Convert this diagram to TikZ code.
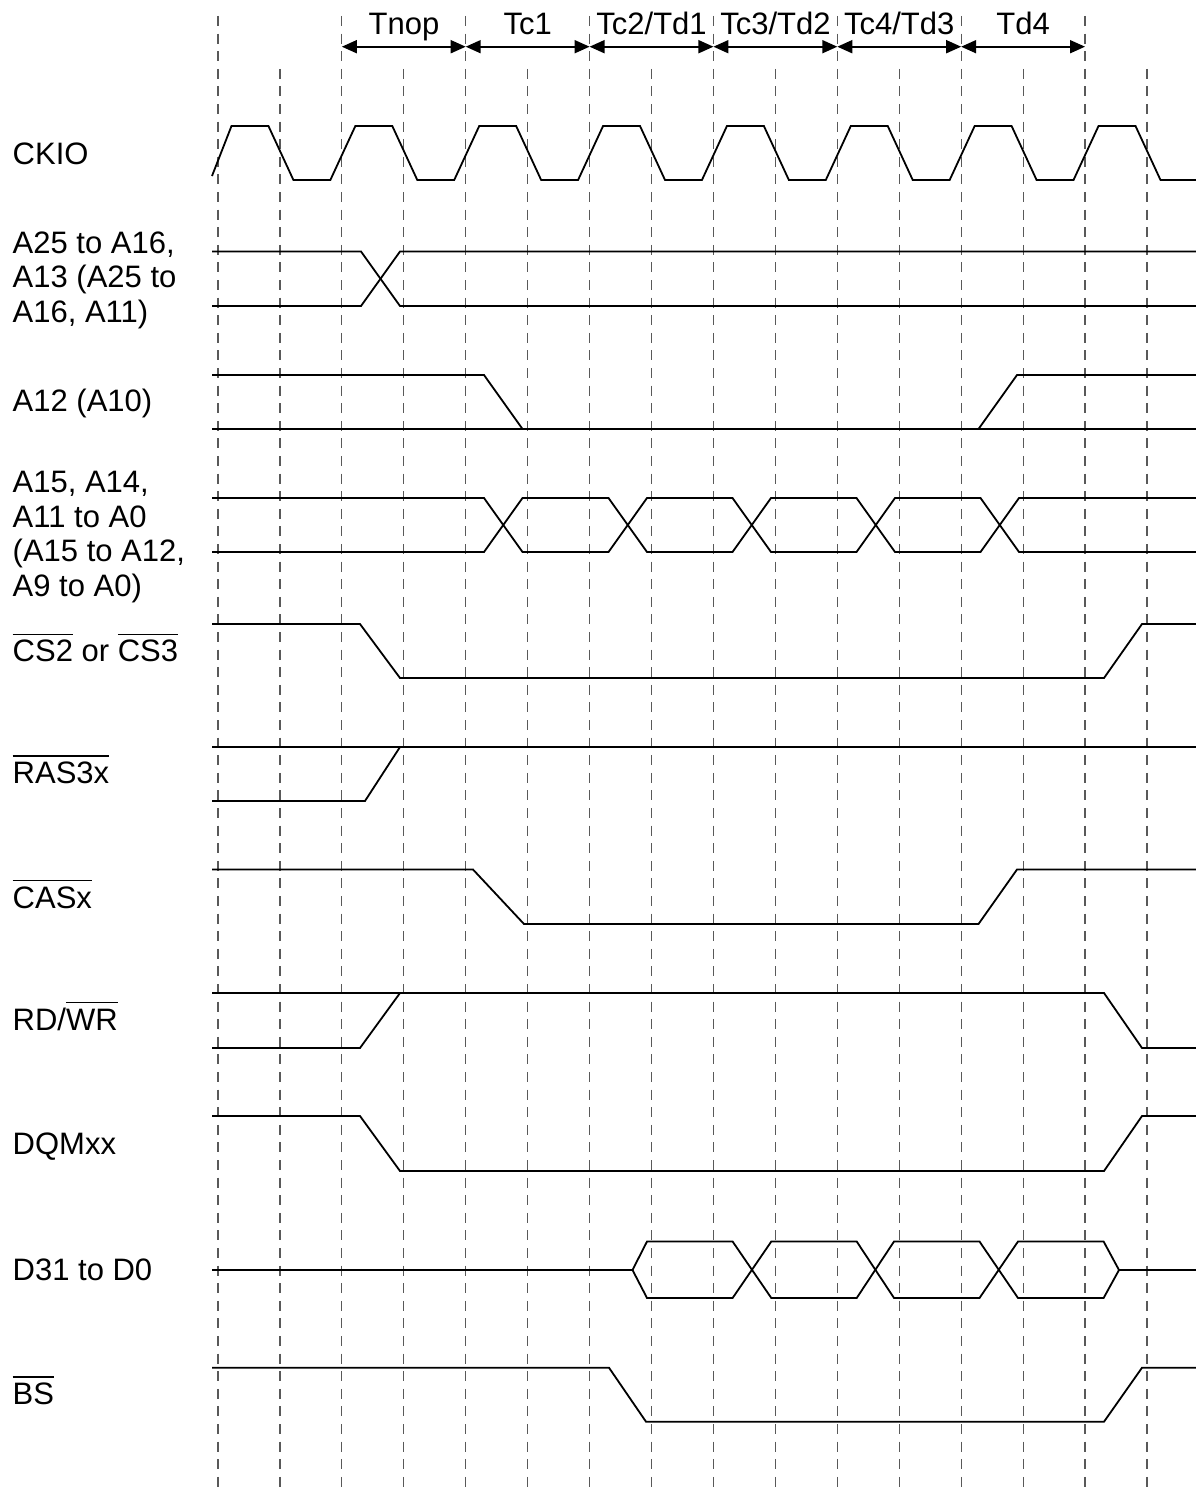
\documentclass[tikz,border=0pt]{standalone}
\usepackage{fontspec}
\setmainfont{Liberation Sans}
\usetikzlibrary{arrows.meta}
\newsavebox\ovbx
\newcommand\ovb[1]{\sbox\ovbx{#1}\rlap{\rule[26.8pt]{\wd\ovbx}{1.4pt}}\usebox\ovbx}
\begin{document}
\begin{tikzpicture}[x=1pt,y=-1pt,
  sig/.style={line width=1.8pt},
  gridln/.style={line width=1.2pt, black!65, dash pattern=on 10pt off 7.6pt},
  lbl/.style={anchor=base west, inner sep=0pt, font=\fontsize{31}{34.5}\selectfont},
  per/.style={anchor=base, inner sep=0pt, font=\fontsize{31}{34.5}\selectfont},
  span/.style={line width=1.8pt, {Triangle[length=15pt,width=13pt]}-{Triangle[length=15pt,width=13pt]}}]
\useasboundingbox (0,0) rectangle (1196,1488);

% dashed grid
\foreach \i in {0,...,15} {
  \pgfmathsetmacro\xx{218+61.93*\i}
  \ifodd\i \def\ys{68.8}\else\def\ys{16}\fi
  \draw[gridln] (\xx,\ys) -- (\xx,1488);
}

% period arrows and labels
\foreach \k in {1,...,7} { \coordinate (t\k) at ({218+123.86*\k},46.7); }
\draw[span] (t1) -- (t2);
\draw[span] (t2) -- (t3);
\draw[span] (t3) -- (t4);
\draw[span] (t4) -- (t5);
\draw[span] (t5) -- (t6);
\draw[span] (t6) -- (t7);
\node[per] (pTnop) at (404,35) {Tnop};
\node[per] (pTc1) at (527.7,35) {Tc1};
\node[per] (pTc2) at (651.5,35) {Tc2/Td1};
\node[per] (pTc3) at (775.4,35) {Tc3/Td2};
\node[per] (pTc4) at (899.2,35) {Tc4/Td3};
\node[per] (pTd4) at (1023.1,35) {Td4};

% signal labels
\node[lbl] (lCK) at (12.5,164) {CKIO};
\node[lbl] (lA25) at (12.5,253) {\vtop{\hbox{A25 to A16,}\hbox{A13 (A25 to}\hbox{A16, A11)}}};
\node[lbl] (lA12) at (12.5,411.7) {A12 (A10)};
\node[lbl] (lA15) at (12.5,492.7) {\vtop{\hbox{A15, A14,}\hbox{A11 to A0}\hbox{(A15 to A12,}\hbox{A9 to A0)}}};
\node[lbl] (lCS) at (12.5,661.7) {\ovb{CS2} or \ovb{CS3}};
\node[lbl] (lRAS) at (12.5,783.3) {\ovb{RAS3x}};
\node[lbl] (lCAS) at (12.5,908) {\ovb{CASx}};
\node[lbl] (lRD) at (12.5,1030) {RD/\ovb{WR}};
\node[lbl] (lDQM) at (12.5,1154) {DQMxx};
\node[lbl] (lD) at (12.5,1280) {D31 to D0};
\node[lbl] (lBS) at (12.5,1404.3) {\ovb{BS}};

% CKIO
\draw[sig] (212,176) -- (231.5,126)
  foreach \k in {0,...,6} {
    -- ({218+123.86*\k+61.93-11.5},126) -- ({218+123.86*\k+61.93+13.5},180)
    -- ({218+123.86*(\k+1)-11.5},180) -- ({218+123.86*(\k+1)+13.5},126) }
  -- (1135.5,126) -- (1160.5,180) -- (1196,180);

% A25 to A16
\draw[sig] (212,251.5) -- (361,251.5) -- (400,306) -- (1196,306);
\draw[sig] (212,306) -- (361,306) -- (400,251.5) -- (1196,251.5);

% A12
\draw[sig] (212,375) -- (484,375) -- (522.5,429);
\draw[sig] (212,429) -- (1196,429);
\draw[sig] (978.5,429) -- (1017,375) -- (1196,375);

% A15
\draw[sig] (212,498) -- (484,498) -- (522.5,552) -- (608.5,552) -- (647,498) -- (732.5,498) -- (771,552) -- (856.5,552) -- (895,498) -- (980.5,498) -- (1019,552) -- (1196,552);
\draw[sig] (212,552) -- (484,552) -- (522.5,498) -- (608.5,498) -- (647,552) -- (732.5,552) -- (771,498) -- (856.5,498) -- (895,552) -- (980.5,552) -- (1019,498) -- (1196,498);

% CS
\draw[sig] (212,624) -- (360,624) -- (400,678) -- (1104,678) -- (1142,624) -- (1196,624);

% RAS
\draw[sig] (212,747) -- (1196,747);
\draw[sig] (212,801) -- (365,801) -- (400,747);

% CAS
\draw[sig] (212,869.5) -- (473,869.5) -- (524,924) -- (978.5,924) -- (1017,869.5) -- (1196,869.5);

% RD/WR
\draw[sig] (212,993) -- (1104,993) -- (1142,1048) -- (1196,1048);
\draw[sig] (212,1048) -- (360,1048) -- (400,993);

% DQM
\draw[sig] (212,1116) -- (360,1116) -- (400,1171) -- (1104,1171) -- (1142,1116) -- (1196,1116);

% D31 to D0
\draw[sig] (212,1270) -- (632.5,1270) -- (647,1241.5) -- (732.6,1241.5) -- (771.3,1298) -- (856.7,1298) -- (894,1241.5) -- (979.5,1241.5) -- (1018,1298) -- (1103.6,1298) -- (1119,1270) -- (1196,1270);
\draw[sig] (632.5,1270) -- (647,1298) -- (732.6,1298) -- (771.3,1241.5) -- (856.7,1241.5) -- (894,1298) -- (979.5,1298) -- (1018,1241.5) -- (1103.6,1241.5) -- (1119,1270);

% BS
\draw[sig] (212,1367.7) -- (609,1367.7) -- (646,1421.7) -- (1104,1421.7) -- (1142,1367.7) -- (1196,1367.7);
\end{tikzpicture}
\end{document}
